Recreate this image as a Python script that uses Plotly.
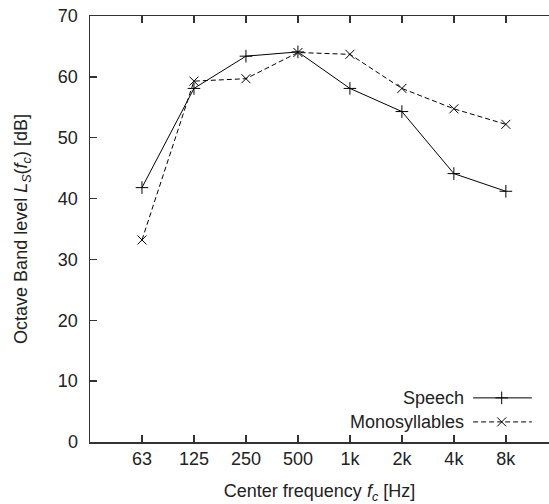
import plotly.graph_objects as go

categories = ["63", "125", "250", "500", "1k", "2k", "4k", "8k"]
positions = [1, 2, 3, 4, 5, 6, 7, 8]
speech = [41.8, 58.1, 63.4, 64.1, 58.1, 54.3, 44.1, 41.2]
mono = [33.2, 59.3, 59.7, 64.0, 63.7, 58.1, 54.75, 52.2]
y_ticks = [0, 10, 20, 30, 40, 50, 60, 70]

FONT = "Liberation Sans, Arial, sans-serif"
AX = "#333333"

fig = go.Figure()
fig.add_trace(go.Scatter(
    x=positions, y=speech, mode="lines+markers", name="Speech",
    line=dict(color="black", width=1),
    marker=dict(symbol="cross-thin", size=9, line=dict(color="black", width=1)),
    showlegend=False, hoverinfo="skip"))
fig.add_trace(go.Scatter(
    x=positions, y=mono, mode="lines+markers", name="Monosyllables",
    line=dict(color="black", width=1, dash="5px,3px"),
    marker=dict(symbol="x-thin", size=9, line=dict(color="black", width=1)),
    showlegend=False, hoverinfo="skip"))

# custom gnuplot-style key (text left, sample right)
key = [("Speech", 7.25, None, "cross-thin"), ("Monosyllables", 3.3, "5px,3px", "x-thin")]
for label, ky, dash, sym in key:
    fig.add_trace(go.Scatter(
        x=[7.37, 8.5], y=[ky, ky], mode="lines",
        line=dict(color="black", width=1, dash=dash),
        showlegend=False, hoverinfo="skip"))
    fig.add_trace(go.Scatter(
        x=[7.92], y=[ky], mode="markers",
        marker=dict(symbol=sym, size=9, line=dict(color="black", width=1)),
        showlegend=False, hoverinfo="skip"))
    fig.add_annotation(x=7.24, y=ky, xref="x", yref="y", text=label,
                       showarrow=False, xanchor="right", yanchor="middle",
                       font=dict(family=FONT, size=18, color="#222"))

fig.update_layout(
    width=549, height=504,
    margin=dict(l=90, r=0, t=16, b=62, autoexpand=False),
    paper_bgcolor="white", plot_bgcolor="white",
    font=dict(family=FONT, size=18, color="#222"),
    xaxis=dict(range=[0, 8.83], tickvals=positions, ticktext=categories,
               ticks="inside", ticklen=7, tickwidth=1.5, tickcolor=AX,
               showline=True, linecolor=AX, linewidth=1.5, mirror="ticks",
               showgrid=False, zeroline=False, automargin=False,
               ticklabeloverflow="allow",
               title=dict(text="Center frequency <i>f</i><sub><i>c</i></sub> [Hz]",
                          standoff=16, font=dict(size=18))),
    yaxis=dict(range=[0, 70], tickvals=y_ticks,
               ticks="inside", ticklen=7, tickwidth=1.5, tickcolor=AX,
               showline=True, linecolor=AX, linewidth=1.5, mirror=False,
               showgrid=False, zeroline=False, ticklabelstandoff=7,
               automargin=False, ticklabeloverflow="allow",
               title=dict(text="Octave Band level <i>L</i><sub><i>S</i></sub>(<i>f</i><sub><i>c</i></sub>) [dB]",
                          standoff=25, font=dict(size=18))),
)

fig.write_html("out.html",
               config={"displayModeBar": False, "staticPlot": True},
               post_script="document.body.style.margin='0';document.body.style.overflow='hidden';")
